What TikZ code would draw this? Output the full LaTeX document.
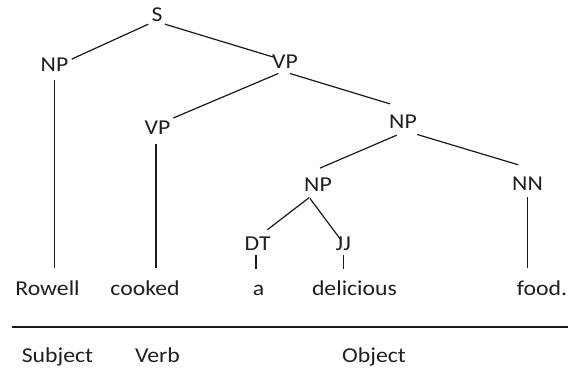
\documentclass[tikz,border=0pt]{standalone}
\usepackage{fontspec}
\setmainfont{Carlito}[FakeStretch=1.12]
\begin{document}
\begin{tikzpicture}[x=1pt,y=-1pt,
  lab/.style={inner sep=0pt, anchor=base, text height=13.4pt, text depth=0pt,
    font=\fontsize{21.2}{25}\selectfont, text=black!88},
  word/.style={inner sep=0pt, anchor=base, text height=16pt, text depth=5pt,
    font=\fontsize{21.2}{25}\selectfont, text=black!88},
  edge/.style={line width=1.2pt, black!90},
  rule/.style={line width=1.7pt, black!90}]
\useasboundingbox (0,0) rectangle (568,369);
% tree labels
\node[lab] (S)   at (157,21.7)  {S};
\node[lab] (NPa) at (54.5,71.7) {NP};
\node[lab] (VPa) at (285,68.3)  {VP};
\node[lab] (VPb) at (157.5,135) {VP};
\node[lab] (NPb) at (403,128.5) {NP};
\node[lab] (NPc) at (318,191)   {NP};
\node[lab] (NN)  at (527.5,190.7) {NN};
\node[lab] (DT)  at (257.7,250) {DT};
\node[lab] (JJ)  at (343.3,250) {JJ};
% words
\node[word] (w1) at (47.5,295.7)  {Rowell};
\node[word] (w2) at (145,295.7)   {cooked};
\node[word] (w3) at (258.5,295.7) {a};
\node[word] (w4) at (354.5,295.7) {delicious};
\node[word] (w5) at (542,295.7)   {food.};
% roles
\node[word] (r1) at (57.5,362) {Subject};
\node[word] (r2) at (157.5,362) {Verb};
\node[word] (r3) at (374,362) {Object};
\coordinate (ruleL) at (12,327);
\coordinate (ruleR) at (568,327);
\draw[rule] (ruleL) -- (ruleR);
% branches
\draw[edge] ([shift={(-8.7,2.3)}]S.south) -- ([shift={(17.2,1)}]NPa.north);
\draw[edge] ([shift={(8,2.3)}]S.south) -- ([shift={(-12,2.3)}]VPa.north);
\draw[edge] ([shift={(-6.7,5)}]VPa.south) -- ([shift={(15.8,-3.4)}]VPb.north);
\draw[edge] ([shift={(5,5)}]VPa.south) -- ([shift={(-13,-11)}]NPb.north);
\draw[edge] ([shift={(-6.3,6.5)}]NPb.south) -- ([shift={(2,-9.3)}]NPc.north);
\draw[edge] ([shift={(14.3,5.8)}]NPb.south) -- ([shift={(-9.2,-12.3)}]NN.north);
\draw[edge] ([shift={(-8.7,6.3)}]NPc.south) -- ([shift={(9.6,-6.6)}]DT.north);
\draw[edge] ([shift={(-8,7.3)}]NPc.south) -- ([shift={(-2.6,3.3)}]JJ.north);
% vertical stems
\draw[edge] ([shift={(0,8.5)}]NPa.south) -- ([shift={(0,-11.7)}]NPa.south |- w1.north);
\draw[edge] ([shift={(-1.5,8.5)}]VPb.south) -- ([shift={(-1.5,-11.7)}]VPb.south |- w2.north);
\draw[edge] ([shift={(-1.7,5)}]DT.south) -- ([shift={(-1.7,-10.7)}]DT.south |- w3.north);
\draw[edge] ([shift={(0,5)}]JJ.south) -- ([shift={(0,-10.7)}]JJ.south |- w4.north);
\draw[edge] ([shift={(0.2,6)}]NN.south) -- ([shift={(0.2,-11.7)}]NN.south |- w5.north);
\end{tikzpicture}
\end{document}
